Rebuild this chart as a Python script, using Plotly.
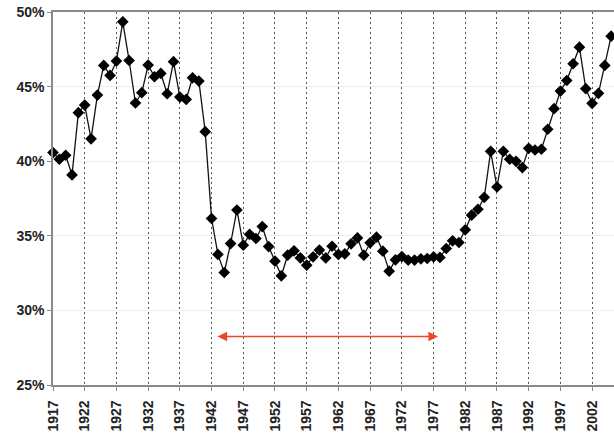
import plotly.graph_objects as go

years = list(range(1917, 2006))
share = [
    40.58, 40.13, 40.40, 39.08, 43.25, 43.76, 41.50, 44.43, 46.42, 45.75,
    46.71, 49.34, 46.75, 43.90, 44.59, 46.44, 45.66, 45.88, 44.52, 46.67,
    44.30, 44.14, 45.59, 45.37, 41.98, 36.16, 33.75, 32.54, 34.48, 36.73,
    34.37, 35.10, 34.82, 35.62, 34.28, 33.30, 32.32, 33.70, 33.99, 33.52,
    33.03, 33.59, 34.04, 33.52, 34.30, 33.75, 33.79, 34.46, 34.86, 33.70,
    34.53, 34.91, 33.97, 32.63, 33.39, 33.61, 33.37, 33.37, 33.46, 33.48,
    33.59, 33.55, 34.15, 34.66, 34.55, 35.40, 36.38, 36.78, 37.58, 40.66,
    38.27, 40.66, 40.13, 39.99, 39.57, 40.86, 40.75, 40.80, 42.14, 43.52,
    44.70, 45.41, 46.53, 47.64, 44.86, 43.88, 44.55, 46.42, 48.38,
]

x_tick_vals = list(range(1917, 2006, 5))
x_tick_text = [str(v) for v in x_tick_vals]
y_tick_vals = [25, 30, 35, 40, 45, 50]
y_tick_text = ["25%", "30%", "35%", "40%", "45%", "50%"]

arrow_start = 1942.7
arrow_end = 1977.7
arrow_level = 28.25

fig = go.Figure()
fig.add_trace(go.Scatter(
    x=years, y=share, mode="lines+markers",
    line=dict(color="#111111", width=1.3),
    marker=dict(symbol="diamond", size=9, color="#000000"),
    cliponaxis=False,
    showlegend=False,
))

fig.add_annotation(
    x=arrow_end, y=arrow_level, ax=arrow_start, ay=arrow_level,
    xref="x", yref="y", axref="x", ayref="y",
    text="", showarrow=True, arrowhead=2, startarrowhead=2,
    arrowside="end+start", arrowsize=1.2, arrowwidth=1.6,
    arrowcolor="#f0452a",
)

tickfont = dict(family="Liberation Sans, Arial, sans-serif", size=14,
                color="#222222", weight="bold")

fig.update_layout(
    width=614, height=434,
    margin=dict(l=53, r=0, t=12, b=49),
    paper_bgcolor="white", plot_bgcolor="white",
    xaxis=dict(
        range=[1917, 2005.45],
        tickvals=x_tick_vals, ticktext=x_tick_text,
        tickangle=-90, tickfont=tickfont,
        showgrid=True, gridcolor="#555555", griddash="2px,3px", gridwidth=1,
        showline=True, linecolor="#8a8a8a", linewidth=1.5, mirror=True,
        ticks="outside", ticklen=4, tickcolor="#8a8a8a",
        ticklabelstandoff=4,
        automargin=False,
        zeroline=False,
    ),
    yaxis=dict(
        range=[25, 50],
        tickvals=y_tick_vals, ticktext=y_tick_text,
        tickfont=tickfont,
        showgrid=True, gridcolor="#efefef", gridwidth=1,
        showline=True, linecolor="#8a8a8a", linewidth=1.5, mirror=True,
        ticks="outside", ticklen=4, tickcolor="#8a8a8a",
        automargin=False,
        zeroline=False,
    ),
)

fig.write_html(
    "out.html",
    config={"displayModeBar": False},
    post_script="document.body.style.margin='0';document.body.style.overflow='hidden';",
)
